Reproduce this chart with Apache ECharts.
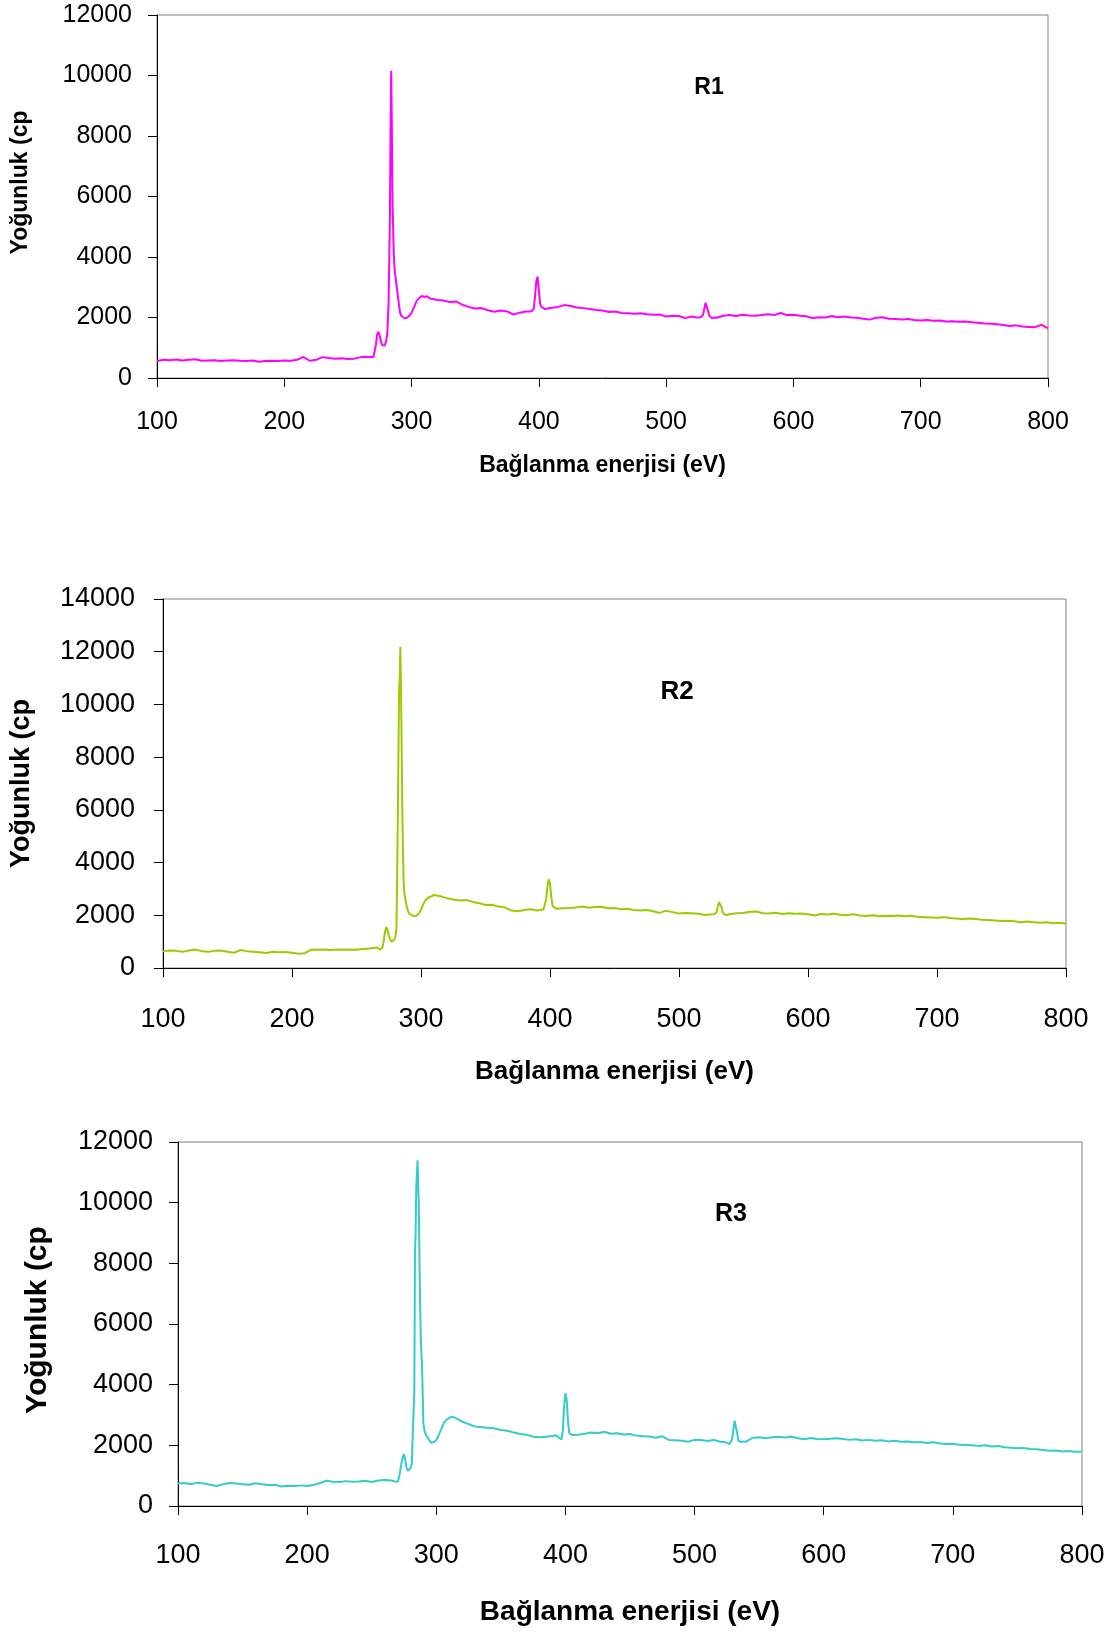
<!DOCTYPE html>
<html>
<head>
<meta charset="utf-8">
<script src="https://cdn.jsdelivr.net/npm/echarts@6/dist/echarts.min.js"></script>
<style>
html,body{margin:0;padding:0;background:#fff;}
#chart{width:1118px;height:1633px;}
</style>
</head>
<body>
<div id="chart"></div>
<script>
// Binding energy (eV)
const energy = [
 100,105,110,115,120,125,130,135,140,145,150,155,160,165,170,175,180,185,190,195,200,205,210,215,220,225,230,235,240,245,250,255,260,
 263,266,268,270,271,272,273,274,275,276,277,278,279,280,281,282,283,283.5,284,284.5,285,285.5,286,286.5,287,287.5,288,289,290,291,292,294,296,298,300,302,304,306,308,310,312,315,318,
 320,325,330,335,340,345,350,355,360,365,370,375,380,385,390,
 393,395,396,397,398,399,400,401,402,403,405,
 410,415,420,425,430,435,440,445,450,455,460,465,470,475,480,485,490,495,500,505,510,515,520,
 524,527,529,530,531,532,533,534,536,538,
 540,545,550,555,560,565,570,575,580,585,590,595,600,605,610,615,620,625,630,635,640,645,650,655,660,665,670,675,680,685,690,695,700,705,710,715,720,725,730,735,740,745,750,755,760,765,770,775,780,785,790,795,800
];

// R1 intensity (cps)
const r1 = [
 560,600,590,610,580,600,620,570,580,590,560,580,590,570,560,580,540,560,570,560,580,570,600,700,570,600,690,660,640,650,630,640,690,
 700,690,700,690,720,1100,1450,1530,1400,1200,1080,1035,1080,1200,1500,2600,5300,8400,10160,8300,5800,5000,4130,3700,3450,3300,3240,2800,2450,2150,2050,1990,1980,2050,2150,2350,2550,2640,2710,2680,2700,2620,2600,
 2580,2560,2510,2530,2420,2350,2300,2310,2240,2190,2230,2200,2100,2160,2200,
 2200,2230,2300,2700,3200,3350,2900,2450,2350,2300,2280,
 2320,2350,2410,2380,2330,2310,2280,2250,2230,2180,2200,2150,2140,2120,2140,2110,2090,2100,2030,2060,2050,1980,2030,
 2000,2010,2080,2300,2490,2450,2200,2050,1980,2000,
 1990,2060,2080,2050,2090,2070,2060,2080,2110,2080,2150,2080,2090,2060,2040,1980,2010,2000,2050,2010,2030,2000,1990,1960,1930,1990,2010,1960,1950,1930,1950,1920,1900,1920,1890,1900,1870,1880,1860,1870,1840,1830,1800,1790,1780,1750,1720,1740,1700,1690,1680,1760,1640
];

// R2 intensity (cps)
const r2 = [
 640,660,650,620,660,700,640,620,650,660,620,580,680,640,620,600,570,620,600,610,580,540,560,700,690,700,680,700,690,700,690,720,740,
 760,780,700,760,1000,1350,1544,1450,1250,1100,1000,1000,1050,1150,1500,5500,10480,11000,12190,10500,8400,6000,4500,3340,2900,2700,2580,2330,2150,2050,2000,1980,1970,2050,2200,2450,2600,2680,2720,2770,2750,2720,2680,
 2650,2600,2560,2580,2510,2460,2390,2400,2330,2300,2180,2150,2200,2230,2180,
 2200,2230,2300,2600,3100,3365,3200,2700,2350,2280,2250,
 2270,2280,2300,2330,2290,2310,2320,2270,2280,2230,2250,2200,2180,2200,2150,2090,2175,2120,2070,2090,2080,2060,2010,
 2030,2040,2100,2300,2500,2515,2300,2100,2010,2020,
 2050,2080,2090,2130,2140,2080,2070,2100,2050,2080,2060,2070,2040,1990,2050,2030,2060,2020,2000,2040,1990,1970,2000,1960,1980,1970,1990,1960,1980,1940,1930,1920,1910,1930,1900,1880,1850,1880,1860,1830,1820,1800,1780,1790,1770,1740,1760,1740,1720,1740,1700,1720,1680
];

// R3 intensity (cps)
const r3 = [
 740,760,720,770,740,700,660,720,760,740,720,700,750,720,690,700,640,670,660,680,660,690,760,830,800,790,820,800,810,830,790,840,860,
 850,830,810,800,900,1150,1400,1600,1714,1500,1250,1160,1165,1250,1380,1407,3820,8340,9000,10500,11000,11400,10600,9920,8000,6630,5500,4590,2725,2450,2350,2200,2088,2100,2176,2350,2550,2750,2850,2900,2945,2900,2830,
 2780,2700,2620,2600,2580,2560,2505,2480,2420,2374,2350,2286,2264,2286,2308,
 2330,2250,2220,2200,2500,3300,3715,3500,2800,2400,2340,
 2350,2380,2420,2400,2450,2380,2400,2360,2374,2320,2300,2290,2250,2300,2176,2170,2150,2120,2180,2176,2140,2176,2120,
 2100,2044,2200,2500,2813,2750,2400,2150,2110,2130,
 2120,2250,2270,2230,2264,2280,2260,2290,2230,2200,2240,2210,2200,2220,2230,2210,2180,2200,2160,2180,2150,2170,2130,2150,2120,2130,2100,2110,2080,2100,2060,2040,2050,2020,2010,2000,1980,2000,1960,1980,1940,1920,1900,1910,1880,1870,1850,1825,1830,1800,1810,1790,1790
];

const panelLabels = ['R1', 'R2', 'R3'];
const yMaxes = [12000, 14000, 12000];
const xTitle = 'Bağlanma enerjisi (eV)';
const yTitle = 'Yoğunluk (cp';
const colors = ['#FF00FF', '#99CC00', '#33CCCC'];

const FONT = "'Liberation Sans', Arial, sans-serif";
const grids = [
  {left:157, top:15, width:891, height:363},
  {left:159, top:599, width:907, height:369},
  {left:178, top:1142, width:904, height:364}
];
const tickFont = [25, 27, 27];
const titleFont = [23, 26, 28];
const yTitleFont = [23, 27, 30];
const yTitlePad = [[0,0,0,28], [0,0,0,0], [0,0,0,8]];
const labelMarginX = [32, 38, 36];
const labelMarginY = [25, 28, 25];
const xNameGap = [76, 91, 92];
const yNameGap = [125, 128, 125];
const rPos = [[709, 88], [677, 692], [731, 1214]];
const rFont = [23, 26, 25];

const chart = echarts.init(document.getElementById('chart'), null, {renderer:'canvas'});
const series = [r1, r2, r3];

const option = {
  animation:false,
  backgroundColor:'#fff',
  grid: grids.map(g => Object.assign({show:true, borderColor:'#808080', borderWidth:1, backgroundColor:'transparent'}, g)),
  xAxis: grids.map((g, i) => ({
    type:'value', gridIndex:i, min:100, max:800, interval:100,
    name:xTitle, nameLocation:'middle', nameGap:xNameGap[i],
    nameTextStyle:{fontFamily:FONT, fontSize:titleFont[i], fontWeight:'bold', color:'#000'},
    axisLine:{show:true, onZero:false, lineStyle:{color:'#000', width:1}},
    axisTick:{show:true, inside:false, length:9, lineStyle:{color:'#000'}},
    axisLabel:{fontFamily:FONT, fontSize:tickFont[i], color:'#000', margin:labelMarginX[i], formatter:v => String(v)},
    splitLine:{show:false}
  })),
  yAxis: grids.map((g, i) => ({
    type:'value', gridIndex:i, min:0, max:yMaxes[i], interval:2000,
    name:yTitle, nameLocation:'middle', nameGap:yNameGap[i], nameRotate:90,
    nameTextStyle:{fontFamily:FONT, fontSize:yTitleFont[i], fontWeight:'bold', color:'#000', padding:yTitlePad[i]},
    axisLine:{show:true, lineStyle:{color:'#000', width:1}},
    axisTick:{show:true, inside:false, length:9, lineStyle:{color:'#000'}},
    axisLabel:{fontFamily:FONT, fontSize:tickFont[i], color:'#000', margin:labelMarginY[i], formatter:v => String(v)},
    splitLine:{show:false}
  })),
  graphic: panelLabels.map((t, i) => ({
    type:'text', x:rPos[i][0], y:rPos[i][1],
    style:{text:t, fontFamily:FONT, fontSize:rFont[i], fontWeight:'bold', fill:'#000', align:'center', verticalAlign:'middle'}
  })),
  series: series.map((vals, i) => ({
    type:'line', xAxisIndex:i, yAxisIndex:i, name:panelLabels[i],
    data: energy.map((e, k) => [e, vals[k]]),
    showSymbol:false, symbol:'none',
    lineStyle:{color:colors[i], width:2},
    itemStyle:{color:colors[i]}
  }))
};
chart.setOption(option);
</script>
</body>
</html>
